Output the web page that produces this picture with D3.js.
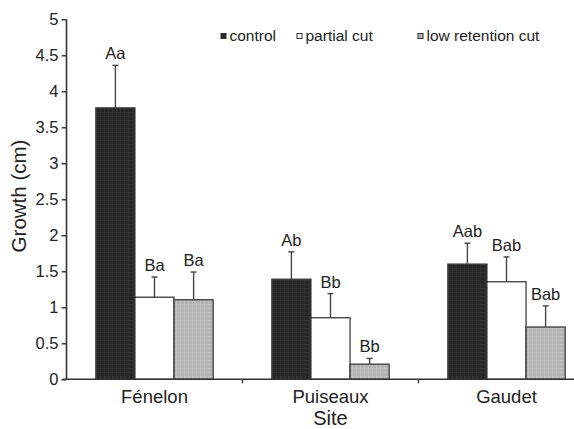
<!DOCTYPE html>
<html>
<head>
<meta charset="utf-8">
<script src="https://cdn.jsdelivr.net/npm/d3@7"></script>
<style>
  html, body { margin: 0; padding: 0; background: #fff; }
  svg { display: block; font-family: "Liberation Sans", Arial, sans-serif; }
</style>
</head>
<body>
<svg id="chart" width="574" height="429"></svg>
<script>
// Growth by site and treatment (mean and upper SE bar, cm)
const sites = ["Fénelon", "Puiseaux", "Gaudet"];
const treatments = ["control", "partial cut", "low retention cut"];

const controlMean = [3.77, 1.39, 1.60];
const controlErr = [0.59, 0.38, 0.29];
const partialMean = [1.14, 0.855, 1.355];
const partialErr = [0.28, 0.335, 0.345];
const lowMean = [1.105, 0.21, 0.726];
const lowErr = [0.385, 0.08, 0.294];

const controlLetters = ["Aa", "Ab", "Aab"];
const partialLetters = ["Ba", "Bb", "Bab"];
const lowLetters = ["Ba", "Bb", "Bab"];

const yTicks = [0, 0.5, 1, 1.5, 2, 2.5, 3, 3.5, 4, 4.5, 5];

const seriesMeans = [controlMean, partialMean, lowMean];
const seriesErrs = [controlErr, partialErr, lowErr];
const seriesLetters = [controlLetters, partialLetters, lowLetters];

const rows = [];
sites.forEach((s, i) => {
  treatments.forEach((t, j) => {
    rows.push({ site: s, treat: t, k: j, mean: seriesMeans[j][i], err: seriesErrs[j][i], letter: seriesLetters[j][i] });
  });
});

const svg = d3.select("#chart");
const axisX = 66.5, baseY = 379.3, topY = 19.3;
const catStep = 176;

const y = d3.scaleLinear().domain([0, 5]).range([baseY, topY]);
const x0 = d3.scaleBand().domain(sites).range([axisX, axisX + catStep * sites.length]).padding(0);
const x1 = d3.scaleBand().domain(treatments).range([0, x0.bandwidth()]).paddingInner(0).paddingOuter(0.75);

// fill textures for the dark and grey bars
const defs = svg.append("defs");
function texture(id, base, line) {
  const p = defs.append("pattern").attr("id", id).attr("patternUnits", "userSpaceOnUse")
    .attr("width", 4).attr("height", 4);
  p.append("rect").attr("width", 4).attr("height", 4).attr("fill", base);
  p.append("path").attr("d", "M0,0.5H4M0.5,0V4").attr("stroke", line).attr("stroke-width", 0.6);
}
texture("texDark", "#262626", "#383838");
texture("texGrey", "#b4b4b4", "#c2c2c2");
const fills = { "control": "url(#texDark)", "partial cut": "#ffffff", "low retention cut": "url(#texGrey)" };

// bars
const g = svg.append("g");
g.selectAll("rect.bar").data(rows).join("rect")
  .attr("class", "bar")
  .attr("x", d => x0(d.site) + x1(d.treat))
  .attr("y", d => y(d.mean))
  .attr("width", x1.bandwidth())
  .attr("height", d => y(0) - y(d.mean))
  .attr("fill", d => fills[d.treat])
  .attr("stroke", "#3a3a3a")
  .attr("stroke-width", 1.3);

// upper error bars
const cx = d => x0(d.site) + x1(d.treat) + x1.bandwidth() / 2;
g.selectAll("line.err").data(rows).join("line")
  .attr("class", "err")
  .attr("x1", cx).attr("x2", cx)
  .attr("y1", d => y(d.mean)).attr("y2", d => y(d.mean + d.err))
  .attr("stroke", "#444").attr("stroke-width", 1.4);
g.selectAll("line.cap").data(rows).join("line")
  .attr("class", "cap")
  .attr("x1", d => cx(d) - 3).attr("x2", d => cx(d) + 3)
  .attr("y1", d => y(d.mean + d.err)).attr("y2", d => y(d.mean + d.err))
  .attr("stroke", "#444").attr("stroke-width", 1.4);

// significance letters
g.selectAll("text.letter").data(rows).join("text")
  .attr("class", "letter")
  .attr("x", cx)
  .attr("y", d => y(d.mean + d.err) - 6)
  .attr("text-anchor", "middle")
  .attr("font-size", 16.5)
  .attr("fill", "#222")
  .text(d => d.letter);

// y axis
const yAxis = d3.axisLeft(y).tickValues(yTicks).tickFormat(d3.format("~g")).tickSize(5).tickPadding(3);
const ya = svg.append("g").attr("transform", `translate(${axisX},0)`).call(yAxis);
ya.select(".domain").attr("stroke", "#333").attr("stroke-width", 1.6).attr("d", `M0,${topY}V${baseY}`);
ya.selectAll(".tick line").attr("stroke", "#333").attr("stroke-width", 1.4);
ya.selectAll(".tick text").attr("font-size", 16.5).attr("fill", "#222").attr("font-family", "Liberation Sans, Arial, sans-serif");

// x axis: baseline with category boundary marks
const xa = svg.append("g");
xa.append("line").attr("x1", axisX - 4).attr("x2", x0.range()[1]).attr("y1", baseY).attr("y2", baseY)
  .attr("stroke", "#333").attr("stroke-width", 1.6);
xa.selectAll("line.sep").data(sites.slice(1)).join("line")
  .attr("class", "sep")
  .attr("x1", d => x0(d)).attr("x2", d => x0(d))
  .attr("y1", baseY).attr("y2", baseY + 4)
  .attr("stroke", "#333").attr("stroke-width", 1.4);
xa.selectAll("text.site").data(sites).join("text")
  .attr("class", "site")
  .attr("x", d => x0(d) + x0.bandwidth() / 2)
  .attr("y", 403)
  .attr("text-anchor", "middle")
  .attr("font-size", 18.5)
  .attr("fill", "#222")
  .text(d => d);

// axis titles
svg.append("text").attr("x", x0(sites[1]) + x0.bandwidth() / 2).attr("y", 425)
  .attr("text-anchor", "middle").attr("font-size", 20).attr("fill", "#222").text("Site");
svg.append("text").attr("transform", "translate(26,196) rotate(-90)")
  .attr("text-anchor", "middle").attr("font-size", 20.5).attr("fill", "#222").text("Growth (cm)");

// legend
const legendX = [221, 297, 418];
const lg = svg.append("g");
treatments.forEach((t, j) => {
  lg.append("rect").attr("x", legendX[j]).attr("y", 33.5).attr("width", 5).attr("height", 5)
    .attr("fill", t === "control" ? "#262626" : t === "partial cut" ? "#fff" : "#b4b4b4")
    .attr("stroke", "#333").attr("stroke-width", 1);
  lg.append("text").attr("x", legendX[j] + 8.5).attr("y", 40.5)
    .attr("font-size", 15.5).attr("fill", "#222").text(t);
});
</script>
</body>
</html>
